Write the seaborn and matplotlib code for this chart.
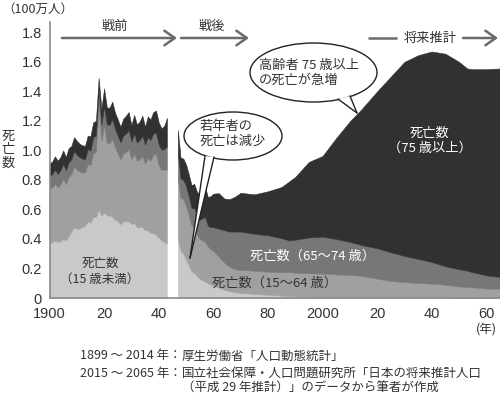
import matplotlib
matplotlib.use("Agg")
import matplotlib.pyplot as plt
import seaborn as sns
from matplotlib.patches import Ellipse, Polygon

# ---------------- data (million deaths) ----------------
years_pre = list(range(1899, 1944))
u15_pre = [0.38, 0.37, 0.38, 0.39, 0.38, 0.385, 0.40, 0.39, 0.42, 0.45,
           0.48, 0.47, 0.47, 0.48, 0.49, 0.52, 0.51, 0.55, 0.55, 0.60,
           0.56, 0.58, 0.56, 0.56, 0.55, 0.53, 0.52, 0.50, 0.52, 0.52,
           0.52, 0.50, 0.51, 0.48, 0.48, 0.48, 0.46, 0.46, 0.44, 0.44,
           0.43, 0.41, 0.39, 0.38, 0.37]
a1564_pre = [0.37, 0.365, 0.37, 0.385, 0.37, 0.385, 0.41, 0.38, 0.40, 0.39,
             0.41, 0.40, 0.385, 0.37, 0.36, 0.39, 0.39, 0.43, 0.44, 0.70,
             0.50, 0.59, 0.49, 0.49, 0.53, 0.49, 0.46, 0.44, 0.46, 0.47,
             0.49, 0.44, 0.47, 0.45, 0.46, 0.48, 0.45, 0.49, 0.49, 0.53,
             0.545, 0.49, 0.48, 0.49, 0.50]
a6574_pre = [0.095, 0.09, 0.09, 0.095, 0.09, 0.095, 0.10, 0.095, 0.10, 0.10,
             0.105, 0.10, 0.10, 0.095, 0.09, 0.10, 0.10, 0.11, 0.11, 0.115,
             0.115, 0.13, 0.125, 0.125, 0.13, 0.125, 0.12, 0.115, 0.12, 0.125,
             0.13, 0.12, 0.135, 0.125, 0.13, 0.14, 0.13, 0.14, 0.14, 0.145,
             0.145, 0.14, 0.135, 0.14, 0.155]
a75_pre = [0.085, 0.085, 0.085, 0.09, 0.09, 0.09, 0.09, 0.09, 0.095, 0.09,
           0.095, 0.095, 0.09, 0.09, 0.09, 0.09, 0.095, 0.10, 0.10, 0.075,
           0.105, 0.12, 0.115, 0.115, 0.12, 0.11, 0.11, 0.105, 0.115, 0.12,
           0.12, 0.11, 0.125, 0.12, 0.125, 0.135, 0.12, 0.14, 0.14, 0.145,
           0.15, 0.15, 0.145, 0.155, 0.195]

years_post = [1947, 1948, 1949, 1950, 1951, 1952, 1953, 1954, 1955, 1956,
              1957, 1958, 1959, 1960, 1962, 1964, 1966, 1968, 1970, 1975,
              1980, 1985, 1988, 1990, 1995, 2000, 2005, 2010, 2014, 2020,
              2025, 2030, 2035, 2040, 2045, 2050, 2053, 2055, 2060, 2065]
u15_post = [0.40, 0.32, 0.30, 0.26, 0.22, 0.18, 0.17, 0.15, 0.13, 0.12,
            0.11, 0.10, 0.09, 0.085, 0.07, 0.055, 0.045, 0.04, 0.035, 0.028,
            0.022, 0.016, 0.013, 0.011, 0.009, 0.008, 0.006, 0.005, 0.004, 0.004,
            0.003, 0.003, 0.003, 0.003, 0.003, 0.002, 0.002, 0.002, 0.002, 0.002]
a1564_post = [0.42, 0.36, 0.37, 0.36, 0.34, 0.31, 0.31, 0.28, 0.27, 0.27,
              0.27, 0.25, 0.24, 0.235, 0.21, 0.185, 0.165, 0.155, 0.155, 0.157,
              0.156, 0.159, 0.162, 0.161, 0.159, 0.157, 0.154, 0.152, 0.148, 0.127,
              0.112, 0.105, 0.099, 0.094, 0.087, 0.076, 0.072, 0.07, 0.062, 0.062]
a6574_post = [0.16, 0.13, 0.13, 0.14, 0.13, 0.12, 0.13, 0.13, 0.13, 0.15,
              0.17, 0.14, 0.15, 0.16, 0.19, 0.22, 0.24, 0.255, 0.26, 0.25,
              0.247, 0.23, 0.215, 0.223, 0.242, 0.25, 0.24, 0.223, 0.208, 0.206,
              0.195, 0.177, 0.163, 0.147, 0.125, 0.117, 0.111, 0.103, 0.09, 0.078]
a75_post = [0.158, 0.141, 0.145, 0.145, 0.149, 0.155, 0.163, 0.161, 0.164, 0.185,
            0.202, 0.194, 0.210, 0.227, 0.240, 0.214, 0.220, 0.237, 0.263, 0.267,
            0.298, 0.347, 0.403, 0.425, 0.512, 0.547, 0.684, 0.817, 0.913, 1.063,
            1.19, 1.315, 1.38, 1.426, 1.44, 1.405, 1.37, 1.375, 1.396, 1.413]

x_ticks = [1900, 1920, 1940, 1960, 1980, 2000, 2020, 2040, 2060]
x_tick_labels = ["1900", "20", "40", "60", "80", "2000", "20", "40", "60"]
y_ticks = [0, 0.2, 0.4, 0.6, 0.8, 1.0, 1.2, 1.4, 1.6, 1.8]
y_tick_labels = ["0", "0.2", "0.4", "0.6", "0.8", "1.0", "1.2", "1.4", "1.6", "1.8"]

layer_colors = ["#c9c9c9", "#a0a0a0", "#777777", "#313131"]

# ---------------- style ----------------
sns.set_style("white")
plt.rcParams["font.family"] = ["Noto Sans CJK JP", "DejaVu Sans"]
TXT = "#333333"

fig = plt.figure(figsize=(5.0, 3.98), dpi=100)
ax = fig.add_axes([49.5 / 500, 1 - 298 / 398, 450.5 / 500, 276 / 398])

for yrs, layers in [(years_pre, [u15_pre, a1564_pre, a6574_pre, a75_pre]),
                    (years_post, [u15_post, a1564_post, a6574_post, a75_post])]:
    polys = ax.stackplot(yrs, *layers, colors=layer_colors, linewidth=0)
    for p, c in zip(polys, layer_colors):
        p.set_edgecolor(c)
        p.set_linewidth(0.4)

ax.set_xlim(1900, 2065)
ax.set_ylim(0, 1.87)
ax.set_xticks(x_ticks)
ax.set_xticklabels(x_tick_labels, family="Liberation Sans", fontsize=10.5, color=TXT)
ax.set_yticks(y_ticks)
ax.set_yticklabels(y_tick_labels, family="Liberation Sans", fontsize=10.5, color=TXT)
ax.tick_params(axis="both", direction="out", length=3, width=1, color="#888888", pad=2.5)
ax.tick_params(axis="x", pad=3.5)
sns.despine(ax=ax, top=True, right=True)
for s in ["left", "bottom"]:
    ax.spines[s].set_color("#8a8a8a")
    ax.spines[s].set_linewidth(1.2)
ax.set_facecolor("white")

# in-chart labels
ax.text(1918.5, 0.18, "死亡数\n（15 歳未満）", ha="center", va="center",
        fontsize=9, color=TXT, linespacing=1.25)
ax.text(1982.5, 0.10, "死亡数（15～64 歳）", ha="center", va="center",
        fontsize=9.5, color=TXT)
ax.text(1996.4, 0.28, "死亡数（65～74 歳）", ha="center", va="center",
        fontsize=9.5, color="white")
ax.text(2039.2, 1.065, "死亡数\n（75 歳以上）", ha="center", va="center",
        fontsize=9.5, color="white", linespacing=1.25)

# ---------------- overlay (pixel coordinates) ----------------
ov = fig.add_axes([0, 0, 1, 1])
ov.set_xlim(0, 500)
ov.set_ylim(398, 0)
ov.axis("off")
ov.patch.set_alpha(0)

ov.text(38, 9, "（100万人）", ha="center", va="center", fontsize=9, color=TXT)
ov.text(8, 150, "死\n亡\n数", ha="center", va="center", fontsize=9.5,
        color=TXT, linespacing=1.05)
ov.text(486, 330, "(年)", ha="center", va="center", fontsize=9, color=TXT)

arrow_kw = dict(arrowstyle="->,head_length=0.5,head_width=0.35", lw=1.8,
                color="#6a6a6a", mutation_scale=15, shrinkA=0, shrinkB=0)
ov.annotate("", xy=(177, 38), xytext=(62, 38), arrowprops=arrow_kw)
ov.annotate("", xy=(249, 38), xytext=(181, 38), arrowprops=arrow_kw)
ov.plot([368, 397], [38, 38], color="#6a6a6a", lw=1.8, solid_capstyle="butt")
ov.annotate("", xy=(498, 38), xytext=(463, 38), arrowprops=arrow_kw)
ov.text(115, 26, "戦前", ha="center", va="center", fontsize=9.5, color=TXT)
ov.text(212, 26, "戦後", ha="center", va="center", fontsize=9.5, color=TXT)
ov.text(430, 38, "将来推計", ha="center", va="center", fontsize=9.5, color=TXT)

# speech bubbles
def bubble(cx, cy, w, h, tail):
    ov.add_patch(Ellipse((cx, cy), w, h, facecolor="white", edgecolor="#222222",
                         lw=1.0, zorder=5))
    ov.add_patch(Polygon(tail, closed=True, facecolor="white", edgecolor="none",
                         zorder=6))
    ov.plot([tail[0][0], tail[1][0]], [tail[0][1], tail[1][1]],
            color="#222222", lw=1.0, zorder=7)
    ov.plot([tail[2][0], tail[1][0]], [tail[2][1], tail[1][1]],
            color="#222222", lw=1.0, zorder=7)

bubble(233, 136, 98, 48, [(205, 156), (190, 258), (214, 157)])
ov.text(200, 134, "若年者の\n死亡は減少", ha="left", va="center", fontsize=9.5,
        color=TXT, linespacing=1.25, zorder=8)

bubble(313.5, 72.5, 127, 59, [(338, 99), (357, 113), (350, 96)])
ov.text(259, 73, "高齢者 75 歳以上\nの死亡が急増", ha="left", va="center",
        fontsize=9.5, color=TXT, linespacing=1.25, zorder=8)

# footer
ov.text(182, 356, "1899 ～ 2014 年：", ha="right", va="center", fontsize=9, color=TXT)
ov.text(182, 356, "厚生労働省「人口動態統計」", ha="left", va="center", fontsize=9, color=TXT)
ov.text(182, 373, "2015 ～ 2065 年：", ha="right", va="center", fontsize=9, color=TXT)
ov.text(182, 373, "国立社会保障・人口問題研究所「日本の将来推計人口", ha="left",
        va="center", fontsize=9, color=TXT)
ov.text(182, 388, "（平成 29 年推計）」のデータから筆者が作成", ha="left",
        va="center", fontsize=9, color=TXT)

fig.savefig("out.png", dpi=100, facecolor="white")
